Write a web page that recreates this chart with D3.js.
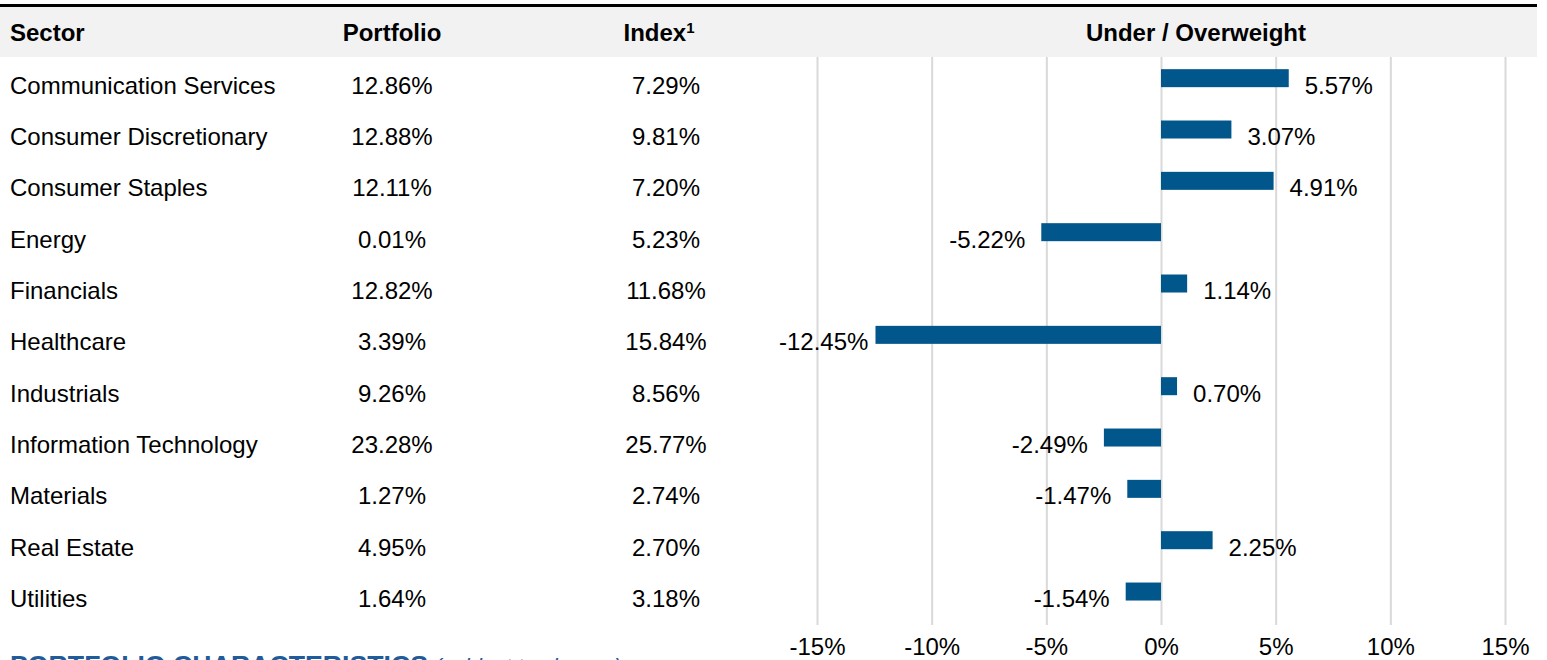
<!DOCTYPE html>
<html>
<head>
<meta charset="utf-8">
<script src="https://cdn.jsdelivr.net/npm/d3@7"></script>
<style>
  html, body { margin: 0; padding: 0; background: #fff; }
  svg { display: block; font-family: "Liberation Sans", Arial, sans-serif; }
</style>
</head>
<body>
<div id="chart"></div>
<script>
// Sector weights table
const sectors = [
  "Communication Services", "Consumer Discretionary", "Consumer Staples", "Energy",
  "Financials", "Healthcare", "Industrials", "Information Technology",
  "Materials", "Real Estate", "Utilities"
];
const portfolio = [12.86, 12.88, 12.11, 0.01, 12.82, 3.39, 9.26, 23.28, 1.27, 4.95, 1.64];
const indexWeights = [7.29, 9.81, 7.20, 5.23, 11.68, 15.84, 8.56, 25.77, 2.74, 2.70, 3.18];
const overUnder = [5.57, 3.07, 4.91, -5.22, 1.14, -12.45, 0.70, -2.49, -1.47, 2.25, -1.54];
const xTicks = [-15, -10, -5, 0, 5, 10, 15];

const width = 1547, height = 660;
const fontSize = 24;
const barColor = "#01568c";

const svg = d3.select("#chart").append("svg")
  .attr("width", width)
  .attr("height", height);

// Header band
svg.append("rect")
  .attr("x", 0).attr("y", 7)
  .attr("width", 1537).attr("height", 50)
  .attr("fill", "#f2f2f2");
svg.append("line")
  .attr("x1", 0).attr("x2", 1537)
  .attr("y1", 5.5).attr("y2", 5.5)
  .attr("stroke", "#000").attr("stroke-width", 3);

const headers = [
  { text: "Sector", x: 10, anchor: "start" },
  { text: "Portfolio", x: 392, anchor: "middle" },
  { text: "Index", x: 659, anchor: "middle", sup: "1" },
  { text: "Under / Overweight", x: 1196, anchor: "middle" }
];
headers.forEach(h => {
  const t = svg.append("text")
    .attr("x", h.x).attr("y", 41)
    .attr("text-anchor", h.anchor)
    .style("font-size", fontSize + "px")
    .style("font-weight", "bold")
    .text(h.text);
  if (h.sup) {
    t.append("tspan")
      .attr("dy", -8)
      .style("font-size", "15px")
      .text(h.sup);
  }
});

// Scales
const x = d3.scaleLinear().domain([-15, 15]).range([817, 1505]);
const y = d3.scaleBand().domain(sectors).range([56, 620.7]).paddingInner(0).paddingOuter(0);
const barH = 18;
const textOffset = 12; // baseline below band centre
const cy = s => y(s) + y.bandwidth() / 2;

// Gridlines
const grid = svg.append("g")
  .attr("transform", `translate(0, 57)`)
  .call(d3.axisBottom(x).tickValues(xTicks).tickSize(568).tickFormat(""));
grid.select(".domain").remove();
grid.selectAll(".tick line").attr("stroke", "#d9d9d9").attr("stroke-width", 2);

// Axis labels
const axis = svg.append("g")
  .attr("transform", `translate(0, 638)`)
  .call(d3.axisBottom(x).tickValues(xTicks).tickSize(0).tickPadding(0).tickFormat(d => d + "%"));
axis.select(".domain").remove();
axis.selectAll(".tick text")
  .attr("y", 17)
  .attr("dy", null)
  .style("font-size", fontSize + "px")
  .style("font-family", "'Liberation Sans', Arial, sans-serif")
  .attr("fill", "#000");

// Table rows
const rows = svg.append("g").selectAll("g")
  .data(sectors)
  .join("g");

rows.append("text")
  .attr("x", 10)
  .attr("y", d => cy(d) + textOffset)
  .style("font-size", fontSize + "px")
  .text(d => d);

rows.append("text")
  .attr("x", 392)
  .attr("y", d => cy(d) + textOffset)
  .attr("text-anchor", "middle")
  .style("font-size", fontSize + "px")
  .text((d, i) => portfolio[i].toFixed(2) + "%");

rows.append("text")
  .attr("x", 666)
  .attr("y", d => cy(d) + textOffset)
  .attr("text-anchor", "middle")
  .style("font-size", fontSize + "px")
  .text((d, i) => indexWeights[i].toFixed(2) + "%");

// Bars
svg.append("g").selectAll("rect")
  .data(sectors)
  .join("rect")
  .attr("x", (d, i) => x(Math.min(0, overUnder[i])))
  .attr("y", d => cy(d) - 3.5 - barH / 2)
  .attr("width", (d, i) => Math.abs(x(overUnder[i]) - x(0)))
  .attr("height", barH)
  .attr("fill", barColor);

// Bar labels
const plotLeft = 779;
svg.append("g").selectAll("text")
  .data(sectors)
  .join("text")
  .attr("y", d => cy(d) + textOffset)
  .style("font-size", fontSize + "px")
  .text((d, i) => overUnder[i].toFixed(2) + "%")
  .attr("text-anchor", "start")
  .attr("x", function(d, i) {
    const v = overUnder[i];
    const w = this.getComputedTextLength();
    if (v >= 0) return x(v) + 16;
    return Math.max(plotLeft, x(v) - 16 - w);
  });

// Next section heading (cut off at the bottom)
const foot = svg.append("text")
  .attr("x", 10).attr("y", 674)
  .attr("fill", "#1f5c99")
  .style("font-size", "26.7px")
  .style("font-weight", "bold")
  .text("PORTFOLIO CHARACTERISTICS");
foot.append("tspan")
  .style("font-size", "22px")
  .style("font-weight", "normal")
  .style("font-style", "italic")
  .text(" (subject to change)");
</script>
</body>
</html>
